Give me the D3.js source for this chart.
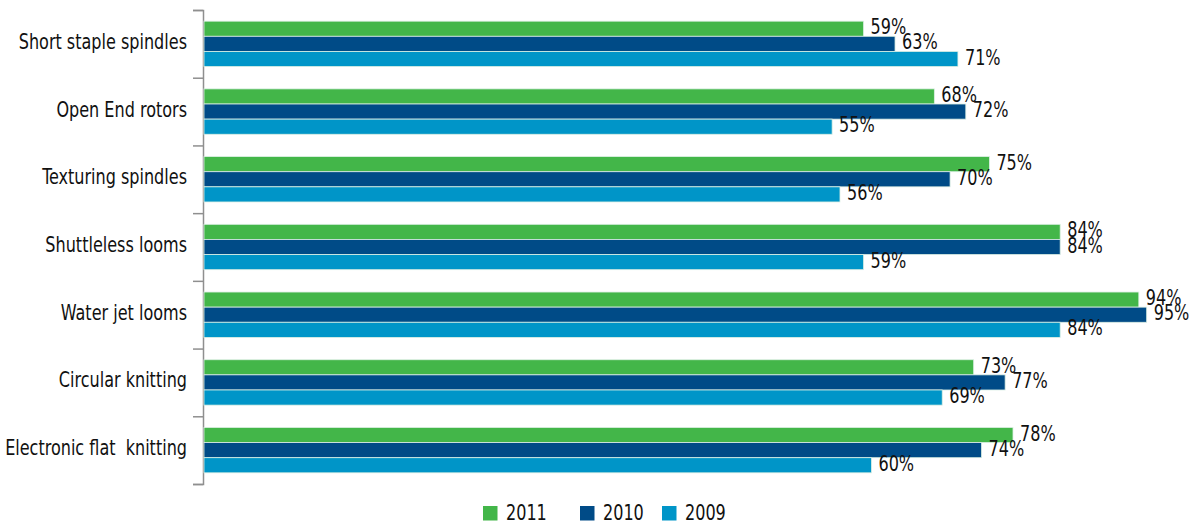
<!DOCTYPE html>
<html>
  <head>
    <script src="https://d3js.org/d3.v7.min.js"></script>
    <style>
      body { margin: 0; background: #fff; }
      text { font-family: "DejaVu Sans Condensed", "DejaVu Sans", sans-serif; font-stretch: condensed; fill: #111; }
      text.cat { white-space: pre; }
    </style>
  </head>
  <body>
    <svg width="1194" height="521"></svg>
    <script>
      const categories = ["Short staple spindles", "Open End rotors", "Texturing spindles",
        "Shuttleless looms", "Water jet looms", "Circular knitting", "Electronic flat  knitting"];
      const years = ["2011", "2010", "2009"];
      const v2011 = [59, 68, 75, 84, 94, 73, 78];
      const v2010 = [63, 72, 70, 84, 95, 77, 74];
      const v2009 = [71, 55, 56, 59, 84, 69, 60];
      const colors = ["#43b649", "#004b87", "#0095c8"];

      const series = [v2011, v2010, v2009];
      const data = categories.map((c, i) => ({
        cat: c,
        vals: years.map((y, j) => ({ year: y, v: series[j][i] }))
      }));

      const svg = d3.select("svg");
      const sx = 0.85; // squeeze text horizontally, the original font is condensed

      const x = d3.scaleLinear().domain([-25, 100]).range([203, 1186]);
      const y = d3.scaleBand().domain(categories).range([10, 484])
        .paddingInner(0.33).paddingOuter(0.165);
      const yi = d3.scaleBand().domain(years).range([0, y.bandwidth()]);

      // axis with ticks between categories
      const tickScale = d3.scaleLinear().domain([0, categories.length]).range([10, 484]);
      const axis = svg.append("g")
        .attr("transform", "translate(203,0)")
        .call(d3.axisLeft(tickScale).ticks(categories.length).tickFormat("").tickSize(10).tickSizeOuter(10));
      axis.selectAll("path, line").attr("stroke", "#8f8f8f").attr("stroke-width", 1.5);

      const groups = svg.selectAll("g.grp").data(data).enter().append("g")
        .attr("class", "grp")
        .attr("transform", d => `translate(0,${y(d.cat)})`);

      groups.selectAll("rect").data(d => d.vals).enter().append("rect")
        .attr("x", x(-25) + 1)
        .attr("y", d => yi(d.year))
        .attr("width", d => x(d.v) - x(-25) - 1)
        .attr("height", yi.bandwidth())
        .attr("fill", (d, i) => colors[i])
        .attr("stroke", "#dcefe4")
        .attr("stroke-width", 0.8);

      groups.selectAll("text.val").data(d => d.vals).enter().append("text")
        .attr("class", "val")
        .attr("transform", d => `translate(${x(d.v) + 7},${yi(d.year) + yi.bandwidth() - 2}) scale(${sx},1)`)
        .attr("font-size", 21)
        .text(d => d.v + "%");

      svg.selectAll("text.cat").data(categories).enter().append("text")
        .attr("class", "cat")
        .attr("transform", d => `translate(187,${y(d) + y.bandwidth() / 2 + 5}) scale(${sx},1)`)
        .attr("text-anchor", "end")
        .attr("font-size", 21)
        .text(d => d);

      const legendX = [483, 580, 662];
      const legend = svg.selectAll("g.leg").data(years).enter().append("g")
        .attr("class", "leg")
        .attr("transform", (d, i) => `translate(${legendX[i]},506)`);
      legend.append("rect").attr("width", 14.5).attr("height", 14.5)
        .attr("fill", (d, i) => colors[i]);
      legend.append("text")
        .attr("transform", `translate(23,14) scale(${sx},1)`)
        .attr("font-size", 21).text(d => d);
    </script>
  </body>
</html>
